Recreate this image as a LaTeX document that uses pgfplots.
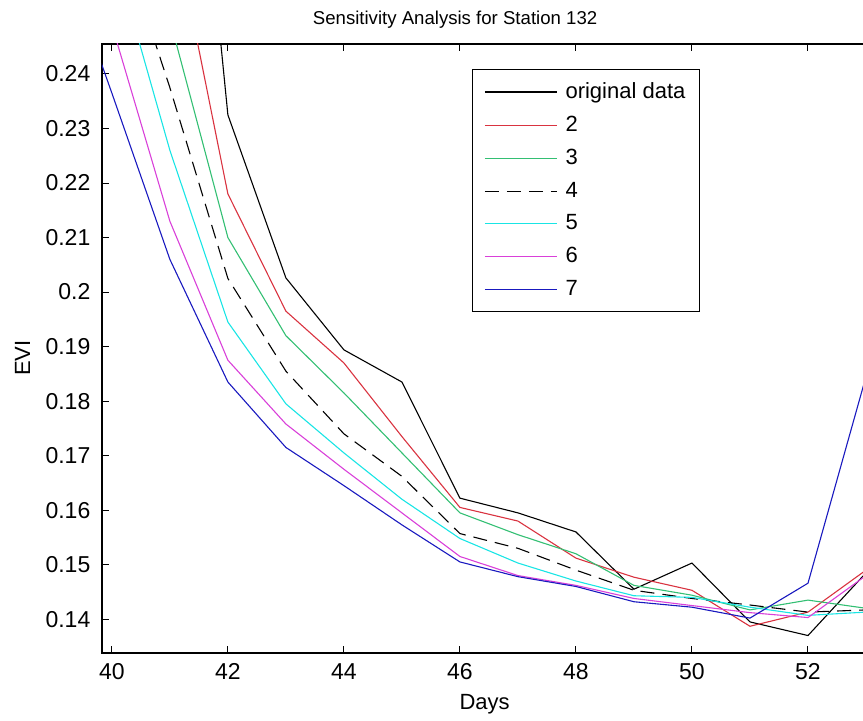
\documentclass[border=0pt]{standalone}
\usepackage{pgfplots}
\pgfplotsset{compat=1.18}
\usepackage{fontspec}
\setmainfont{Liberation Sans}
\definecolor{mred}{rgb}{0.85,0.2,0.25}
\definecolor{mgreen}{rgb}{0.2,0.75,0.45}
\definecolor{mcyan}{rgb}{0.1,0.9,0.9}
\definecolor{mmag}{rgb}{0.85,0.25,0.85}
\definecolor{mblue}{rgb}{0.1,0.1,0.75}
\begin{document}
\begin{tikzpicture}
\begin{axis}[
  at={(0pt,0pt)}, anchor=south west,
  scale only axis, width=399.4pt, height=304.5pt,
  xmin=39.83, xmax=53.6, ymin=0.1338, ymax=0.2455,
  xtick={40,42,...,54}, ytick={0.14,0.15,...,0.245},
  scaled y ticks=false,
  yticklabel style={/pgf/number format/fixed,/pgf/number format/precision=2, xshift=-2.3pt},
  xticklabel style={yshift=-1.8pt},
  /pgf/number format/assume math mode=true,
  tick label style={font=\fontsize{11.5}{13}\selectfont},
  label style={font=\fontsize{11}{13}\selectfont},
  tick align=inside, major tick length=3.5pt,
  tick style={black, line width=0.5pt},
  axis line style={line width=0.6pt},
  title={Sensitivity Analysis for Station 132},
  title style={at={(axis description cs:0.442,1.0131)}, anchor=base, font=\fontsize{9.3}{11}\selectfont},
  xlabel={Days},
  xlabel style={at={(axis description cs:0.479,-0.0936)}, anchor=base},
  ylabel={EVI},
  ylabel style={at={(axis description cs:-0.0901,0.484)}, anchor=base, rotate=0},
  legend cell align=left,
  legend style={at={(axis description cs:0.463,0.959)}, anchor=north west,
    draw=black, line width=0.6pt, font=\fontsize{11}{13}\selectfont,
    inner xsep=6pt, inner ysep=5.5pt, row sep=5.3pt, column sep=3pt,
    nodes={inner sep=1pt}},
  legend image code/.code={\draw[#1] (0pt,0pt) -- (36pt,0pt);},
  every axis plot/.append style={line width=0.55pt},
]
\addplot[black] coordinates {(40,0.40)(41,0.34)(42,0.2325)(43,0.2026)(44,0.1894)(45,0.1835)(46,0.1622)(47,0.1595)(48,0.156)(49,0.1455)(50,0.1503)(51,0.1395)(52,0.137)(53,0.1485)};
\addlegendentry{original data}
\addplot[mred] coordinates {(40,0.32)(41,0.271)(42,0.218)(43,0.1965)(44,0.187)(45,0.1735)(46,0.1605)(47,0.158)(48,0.1512)(49,0.1477)(50,0.1453)(51,0.1387)(52,0.1413)(53,0.149)};
\addlegendentry{2}
\addplot[mgreen] coordinates {(40,0.29)(41,0.25)(42,0.210)(43,0.192)(44,0.1815)(45,0.1705)(46,0.1595)(47,0.1555)(48,0.152)(49,0.1462)(50,0.1444)(51,0.1417)(52,0.1435)(53,0.142)};
\addlegendentry{3}
\addplot[black, dash pattern=on 7pt off 4pt] coordinates {(40,0.27)(41,0.2375)(42,0.2025)(43,0.1855)(44,0.174)(45,0.1662)(46,0.1557)(47,0.153)(48,0.149)(49,0.1453)(50,0.1438)(51,0.1426)(52,0.1413)(53,0.1417)};
\addlegendentry{4}
\addplot[mcyan] coordinates {(40,0.2635)(41,0.226)(42,0.1945)(43,0.1795)(44,0.1705)(45,0.162)(46,0.1548)(47,0.1503)(48,0.147)(49,0.1443)(50,0.144)(51,0.1422)(52,0.1407)(53,0.1413)};
\addlegendentry{5}
\addplot[mmag] coordinates {(40,0.249)(41,0.213)(42,0.1875)(43,0.1758)(44,0.1675)(45,0.1595)(46,0.1515)(47,0.148)(48,0.1462)(49,0.1438)(50,0.1425)(51,0.1412)(52,0.1403)(53,0.148)};
\addlegendentry{6}
\addplot[mblue] coordinates {(39,0.2665)(40,0.2365)(41,0.206)(42,0.1835)(43,0.1715)(44,0.1645)(45,0.1573)(46,0.1505)(47,0.1478)(48,0.146)(49,0.1432)(50,0.1422)(51,0.1402)(52,0.1466)(53,0.1845)};
\addlegendentry{7}
\end{axis}
\pgfresetboundingbox
\useasboundingbox (-51pt,-34pt) rectangle (380.5pt,326.5pt);
\end{tikzpicture}
\end{document}
